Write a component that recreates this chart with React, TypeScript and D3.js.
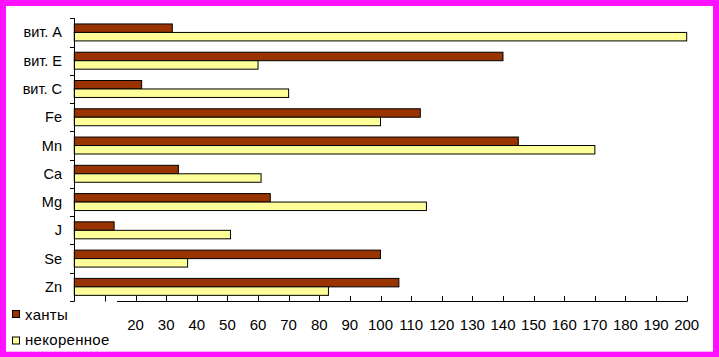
import React from "react";
import * as d3 from "d3";

const categories = ["вит. A", "вит. E", "вит. C", "Fe", "Mn", "Ca", "Mg", "J", "Se", "Zn"];
const seriesNames = ["ханты", "некоренное"];
const khanty = [32, 140, 22, 113, 145, 34, 64, 13, 100, 106];
const nonNative = [200, 60, 70, 100, 170, 61, 115, 51, 37, 83];
const tickValues = [10, 20, 30, 40, 50, 60, 70, 80, 90, 100, 110, 120, 130, 140, 150, 160, 170, 180, 190, 200];
const tickLabels = ["", "20", "30", "40", "50", "60", "70", "80", "90", "100", "110", "120", "130", "140", "150", "160", "170", "180", "190", "200"];

const colors = ["#993300", "#FFFF99"];
const FONT = "'Liberation Sans', Arial, sans-serif";

export default function App() {
  const W = 719, H = 357;
  const x = d3.scaleLinear().domain([0, 200]).range([74.3, 686.7]);
  const y = d3.scaleBand<string>().domain(categories).range([18.3, 301]).paddingInner(0.4).paddingOuter(0.2);
  const sub = d3.scaleBand<number>().domain([0, 1]).range([0, y.bandwidth()]);
  const series = [khanty, nonNative];
  const step = y.step();
  const y0 = 18.3;
  const axisY = 301;

  return (
    <div style={{ position: "absolute", left: 0, top: 0 }}>
      <svg width={W} height={H} style={{ display: "block", fontFamily: FONT }}>
        <rect x={0} y={0} width={W} height={H} fill="#FF10FF" />
        <rect x={6} y={6} width={707} height={345.7} fill="#FFFFFF" />
        {/* bars */}
        {categories.map((c, i) => (
          <g key={c}>
            {series.map((s, k) => (
              <rect
                key={k}
                x={x(0)}
                y={(y(c) as number) + (sub(k) as number)}
                width={x(s[i]) - x(0)}
                height={sub.bandwidth()}
                fill={colors[k]}
                stroke="#000"
                strokeWidth={1}
              />
            ))}
          </g>
        ))}
        {/* y axis */}
        <line x1={74.5} x2={74.5} y1={y0} y2={axisY + 0.5} stroke="#000" />
        {d3.range(categories.length + 1).map((i) => (
          <line key={i} x1={70} x2={74.5} y1={Math.round(y0 + i * step) + 0.5} y2={Math.round(y0 + i * step) + 0.5} stroke="#000" />
        ))}
        {categories.map((c) => (
          <text
            key={c}
            x={62}
            y={(y(c) as number) + y.bandwidth() / 2}
            textAnchor="end"
            dominantBaseline="central"
            fontSize={14.5}
            fill="#000"
          >
            {c}
          </text>
        ))}
        {/* x axis */}
        <line x1={117} x2={x(200) + 0.5} y1={axisY + 0.5} y2={axisY + 0.5} stroke="#000" />
        {tickValues.map((v, i) => (
          <g key={v}>
            <line x1={Math.round(x(v)) + 0.5} x2={Math.round(x(v)) + 0.5} y1={296} y2={axisY + 0.5} stroke="#000" />
            <text x={x(v)} y={330} textAnchor="middle" fontSize={15} fill="#000">
              {tickLabels[i]}
            </text>
          </g>
        ))}
        {/* legend */}
        {seriesNames.map((n, k) => (
          <g key={n}>
            <rect x={12.5} y={310.5 + k * 26.5} width={7} height={7} fill={colors[k]} stroke="#000" strokeWidth={1} />
            <text x={25} y={320 + k * 25} fontSize={15} fill="#000" letterSpacing={0.3}>
              {n}
            </text>
          </g>
        ))}
      </svg>
    </div>
  );
}
